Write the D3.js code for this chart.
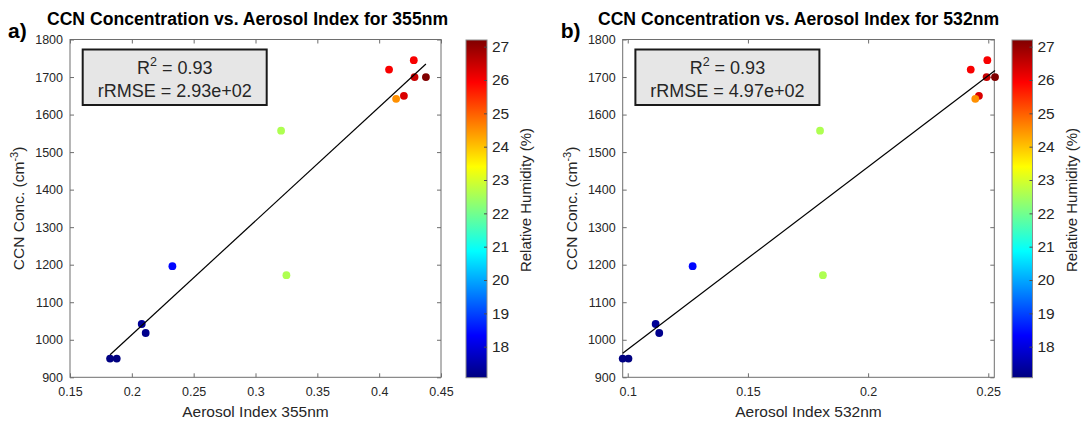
<!DOCTYPE html>
<meta charset="utf-8">
<style>
  body { margin: 0; background: #fff; }
  text { font-family: "Liberation Sans", Arial, sans-serif; fill: #262626; }
  .title { font-weight: bold; fill: #000; }
  .panel { font-weight: bold; fill: #000; }
</style>
<svg width="1084" height="423"></svg>
<script src="https://d3js.org/d3.v7.min.js"></script>
<script>

// relative humidity (%), CCN concentration (cm^-3), aerosol index at two wavelengths
var rh    = [26.0, 26.0, 26.5, 27.2, 26.3, 24.5, 22.6, 18.4, 22.6, 17.3, 17.2, 17.1, 17.07];
var ccn   = [1745, 1720, 1700, 1700, 1650, 1642, 1557, 1196, 1172, 1042, 1018, 950, 950];
var ai355 = [0.428, 0.408, 0.4286, 0.4378, 0.420, 0.4137, 0.3207, 0.2328, 0.325, 0.208, 0.2112, 0.1824, 0.1878];
var ai532 = [0.2496, 0.2427, 0.2493, 0.2528, 0.2461, 0.2446, 0.180, 0.127, 0.1812, 0.1116, 0.1131, 0.0979, 0.1003];

var panelLetters = ["a)", "b)"];
var titles = ["CCN Concentration vs. Aerosol Index for 355nm", "CCN Concentration vs. Aerosol Index for 532nm"];
var xLabels = ["Aerosol Index 355nm", "Aerosol Index 532nm"];
var xDomains = [[0.15, 0.45], [0.0979, 0.2525]];
var xTicks = [[0.15, 0.2, 0.25, 0.3, 0.35, 0.4, 0.45], [0.1, 0.15, 0.2, 0.25]];
var yTicks = [900, 1000, 1100, 1200, 1300, 1400, 1500, 1600, 1700, 1800];
var fitSlope = [3033, 4864];
var fitIntercept = [407, 488];
var r2Text = ["0.93", "0.93"];
var rmseText = ["2.93e+02", "4.97e+02"];
var rhDomain = [17.07, 27.2];
var rhTicks = [18, 19, 20, 21, 22, 23, 24, 25, 26, 27];

var svg = d3.select("svg");
svg.append("rect").attr("width", 1084).attr("height", 423).attr("fill", "#fff");

// MATLAB jet colormap
var jetT = [0, 0.125, 0.375, 0.625, 0.875, 1];
var jetC = ["#000080", "#0000ff", "#00ffff", "#ffff00", "#ff0000", "#800000"];
var jet = d3.scaleLinear().domain(jetT).range(jetC).interpolate(d3.interpolateRgb);
var color = function(v) { return jet((v - rhDomain[0]) / (rhDomain[1] - rhDomain[0])); };

var defs = svg.append("defs");
var grad = defs.append("linearGradient").attr("id", "jet")
    .attr("x1", 0).attr("y1", 1).attr("x2", 0).attr("y2", 0);
d3.range(0, 1.0001, 0.0625).forEach(function(t) {
  grad.append("stop").attr("offset", t).attr("stop-color", jet(t));
});

var panels = [
  { x0: 70, x1: 441, cb0: 466, cb1: 487, xs: ai355, tShift: -8 },
  { x0: 622.7, x1: 994.3, cb0: 1012, cb1: 1032.5, xs: ai532, tShift: -10 }
];
var yTop = 39.5, yBottom = 377.3, tick = 4;

panels.forEach(function(p, i) {
  var x = d3.scaleLinear().domain(xDomains[i]).range([p.x0, p.x1]);
  var y = d3.scaleLinear().domain([900, 1800]).range([yBottom, yTop]);
  var g = svg.append("g");

  // box with inward ticks on all sides
  g.append("rect").attr("x", p.x0).attr("y", yTop).attr("width", p.x1 - p.x0).attr("height", yBottom - yTop)
    .attr("fill", "none").attr("stroke", "#6e6e6e").attr("stroke-width", 1);

  var xb = g.append("g").attr("transform", "translate(0," + yBottom + ")")
    .call(d3.axisBottom(x).tickValues(xTicks[i]).tickSizeInner(-tick).tickSizeOuter(0)
      .tickFormat(function(d) { return String(+d.toFixed(2)); }));
  var xt = g.append("g").attr("transform", "translate(0," + yTop + ")")
    .call(d3.axisTop(x).tickValues(xTicks[i]).tickSizeInner(-tick).tickSizeOuter(0).tickFormat(""));
  var yl = g.append("g").attr("transform", "translate(" + p.x0 + ",0)")
    .call(d3.axisLeft(y).tickValues(yTicks).tickSizeInner(-tick).tickSizeOuter(0).tickFormat(d3.format("d")));
  var yr = g.append("g").attr("transform", "translate(" + p.x1 + ",0)")
    .call(d3.axisRight(y).tickValues(yTicks).tickSizeInner(-tick).tickSizeOuter(0).tickFormat(""));
  [xb, xt, yl, yr].forEach(function(a) {
    a.select(".domain").remove();
    a.selectAll("line").attr("stroke", "#6e6e6e");
    a.selectAll("text").attr("font-family", "Liberation Sans, Arial, sans-serif")
      .attr("font-size", 12.5).attr("fill", "#262626");
  });
  xb.selectAll("text").attr("y", 9.5);
  yl.selectAll("text").attr("x", -7);

  // points
  var idx = d3.range(ccn.length);
  g.append("g").selectAll("circle").data(idx).enter().append("circle")
    .attr("cx", function(k) { return x(p.xs[k]); })
    .attr("cy", function(k) { return y(ccn[k]); })
    .attr("r", 3.9)
    .attr("fill", function(k) { return color(rh[k]); });

  // fit line
  var ext = d3.extent(p.xs);
  g.append("line")
    .attr("x1", x(ext[0])).attr("y1", y(fitIntercept[i] + fitSlope[i] * ext[0]))
    .attr("x2", x(ext[1])).attr("y2", y(fitIntercept[i] + fitSlope[i] * ext[1]))
    .attr("stroke", "#000").attr("stroke-width", 1.2);

  // annotation box
  var bx = p.x0 + 12.7, bw = 184, by = yTop + 10, bh = 55.5;
  g.append("rect").attr("x", bx).attr("y", by).attr("width", bw).attr("height", bh)
    .attr("fill", "#e6e6e6").attr("stroke", "#1a1a1a").attr("stroke-width", 2);
  var t1 = g.append("text").attr("x", bx + bw / 2).attr("y", by + 24).attr("text-anchor", "middle")
    .attr("font-size", 18).attr("fill", "#000");
  t1.append("tspan").text("R");
  t1.append("tspan").attr("dy", -8).attr("font-size", 12.5).text("2");
  t1.append("tspan").attr("dy", 8).text(" = " + r2Text[i]);
  g.append("text").attr("x", bx + bw / 2).attr("y", by + 47.5).attr("text-anchor", "middle")
    .attr("font-size", 18).attr("fill", "#000").text("rRMSE = " + rmseText[i]);

  // titles and labels
  g.append("text").attr("class", "title").attr("x", (p.x0 + p.x1) / 2 + p.tShift).attr("y", 25)
    .attr("text-anchor", "middle").attr("font-size", 17.6).text(titles[i]);
  g.append("text").attr("class", "panel").attr("x", p.x0 - 62).attr("y", 38)
    .attr("font-size", 21).text(panelLetters[i]);
  g.append("text").attr("x", (p.x0 + p.x1) / 2).attr("y", 417).attr("text-anchor", "middle")
    .attr("font-size", 15.5).text(xLabels[i]);
  var yt = g.append("text").attr("transform", "translate(" + (p.x0 - 46) + "," + ((yTop + yBottom) / 2) + ") rotate(-90)")
    .attr("text-anchor", "middle").attr("font-size", 15.5);
  yt.append("tspan").text("CCN Conc. (cm");
  yt.append("tspan").attr("dy", -6).attr("font-size", 11).text("-3");
  yt.append("tspan").attr("dy", 6).text(")");

  // colorbar
  var cy = d3.scaleLinear().domain(rhDomain).range([377.7, 40]);
  g.append("rect").attr("x", p.cb0).attr("y", 40).attr("width", p.cb1 - p.cb0).attr("height", 337.7)
    .attr("fill", "url(#jet)").attr("stroke", "#8c8c8c").attr("stroke-width", 1);
  var cb = g.append("g").attr("transform", "translate(" + p.cb1 + ",0)")
    .call(d3.axisRight(cy).tickValues(rhTicks).tickSizeInner(-3).tickSizeOuter(0));
  cb.select(".domain").remove();
  cb.selectAll("line").attr("stroke", "#4d4d4d");
  cb.selectAll("text").attr("x", 5).attr("font-family", "Liberation Sans, Arial, sans-serif")
    .attr("font-size", 15.5).attr("fill", "#262626");
  g.append("text").attr("transform", "translate(" + (p.cb1 + 44) + "," + 200 + ") rotate(-90)")
    .attr("text-anchor", "middle").attr("font-size", 15).text("Relative Humidity (%)");
});

</script>
